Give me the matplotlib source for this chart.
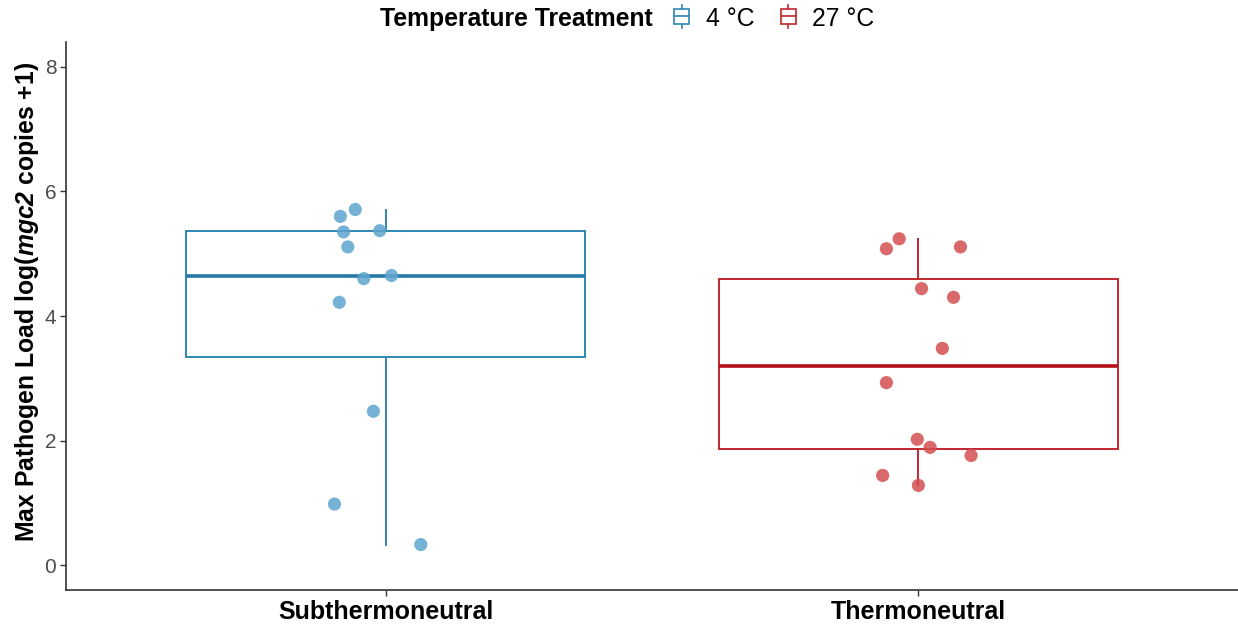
import matplotlib
matplotlib.use("Agg")
import matplotlib.pyplot as plt
from matplotlib.legend_handler import HandlerBase
from matplotlib.lines import Line2D
from matplotlib.patches import Rectangle
import numpy as np

# Max pathogen load per animal, by housing condition and temperature group
groups = ["Subthermoneutral", "Thermoneutral"]
treatments = ["4 °C", "27 °C"]
cold_load = [5.71, 5.60, 5.35, 5.37, 5.11, 4.60, 4.65, 4.22, 2.47, 0.98, 0.33]
cold_jitter = [-0.057, -0.085, -0.079, -0.011, -0.071, -0.041, 0.011, -0.087, -0.023, -0.096, 0.066]
warm_load = [5.24, 5.08, 5.11, 4.44, 4.30, 3.48, 2.93, 2.02, 1.89, 1.76, 1.44, 1.28]
warm_jitter = [-0.036, -0.060, 0.079, 0.006, 0.066, 0.045, -0.060, -0.002, 0.022, 0.099, -0.067, 0.000]

BLUE_LINE, BLUE_PT = "#2F86B5", "#5EA5CF"
RED_LINE, RED_PT = "#C0262C", "#D44F52"
MED_BLUE, MED_RED = "#2679A8", "#B40F18"

plt.rcParams.update({
    "font.family": ["Liberation Sans", "DejaVu Sans"],
    "mathtext.fontset": "custom",
    "mathtext.bfit": "Liberation Sans:bold:italic",
    "mathtext.rm": "Liberation Sans:bold",
})

fig = plt.figure(figsize=(12.38, 6.28), dpi=100, facecolor="white")
ax = fig.add_axes([66 / 1238, 38 / 628, 1172 / 1238, 548 / 628])

series = [(cold_load, cold_jitter, BLUE_LINE, BLUE_PT, MED_BLUE),
          (warm_load, warm_jitter, RED_LINE, RED_PT, MED_RED)]
for pos, (vals, jit, line_c, pt_c, med_c) in enumerate(series, start=1):
    ax.boxplot([vals], positions=[pos], widths=0.75, whis=1.5, showfliers=False,
               showcaps=False, patch_artist=True,
               boxprops=dict(facecolor="none", edgecolor=line_c, linewidth=1.4),
               whiskerprops=dict(color=line_c, linewidth=1.4),
               medianprops=dict(color=med_c, linewidth=2.6))
    ax.scatter(pos + np.array(jit), vals, s=90, color=pt_c, alpha=0.85,
               edgecolors="none", zorder=3)

ax.set_xlim(0.4, 2.6)
ax.set_ylim(-0.4, 8.4)
ax.set_yticks([0, 2, 4, 6, 8])
ax.set_xticks([1, 2])
ax.set_xticklabels(groups, fontsize=18, fontweight="bold", color="black")
ax.tick_params(axis="y", labelsize=15, labelcolor="#4D4D4D", color="#333333",
               length=4, width=1, pad=3)
ax.tick_params(axis="x", color="#333333", length=4, width=1, pad=3)
for side in ("top", "right"):
    ax.spines[side].set_visible(False)
for side in ("left", "bottom"):
    ax.spines[side].set_color("#333333")
    ax.spines[side].set_linewidth(1.2)
ax.set_ylabel(r"Max Pathogen Load log($\mathbfit{mgc2}$ copies +1)",
              fontsize=17.8, fontweight="bold")
ax.yaxis.set_label_coords(-0.021, 0.525)


class BoxGlyph(HandlerBase):
    """Small boxplot key: box, median bar and whisker stubs."""

    def create_artists(self, legend, orig, xd, yd, w, h, fontsize, trans):
        c = orig.get_color()
        cx = -xd + w / 2
        cy = (h - yd) / 2
        bw = w * 0.8
        bh = h * 0.7
        x0, y0 = cx - bw / 2, cy - bh / 2
        box = Rectangle((x0, y0), bw, bh, facecolor="none", edgecolor=c,
                        linewidth=1.2, transform=trans)
        med = Line2D([x0, x0 + bw], [cy, cy], color=c, lw=1.2, transform=trans)
        top = Line2D([cx, cx], [y0 + bh, y0 + bh + h * 0.18], color=c, lw=1.2,
                     transform=trans)
        bot = Line2D([cx, cx], [y0 - h * 0.18, y0], color=c, lw=1.2,
                     transform=trans)
        return [box, med, top, bot]


handles = [Line2D([], [], color=BLUE_LINE), Line2D([], [], color=RED_LINE)]
fig.text(0.527, 0.970, "Temperature Treatment", fontsize=17.8, fontweight="bold",
         ha="right", va="center")
fig.legend(handles, treatments, loc="center left", bbox_to_anchor=(0.543, 0.970),
           ncol=2, frameon=False, fontsize=17.8, handler_map={Line2D: BoxGlyph()},
           handlelength=0.75, handleheight=1.0, handletextpad=0.6,
           columnspacing=1.0, borderpad=0, borderaxespad=0)

fig.savefig("out.png", dpi=100, facecolor="white")
